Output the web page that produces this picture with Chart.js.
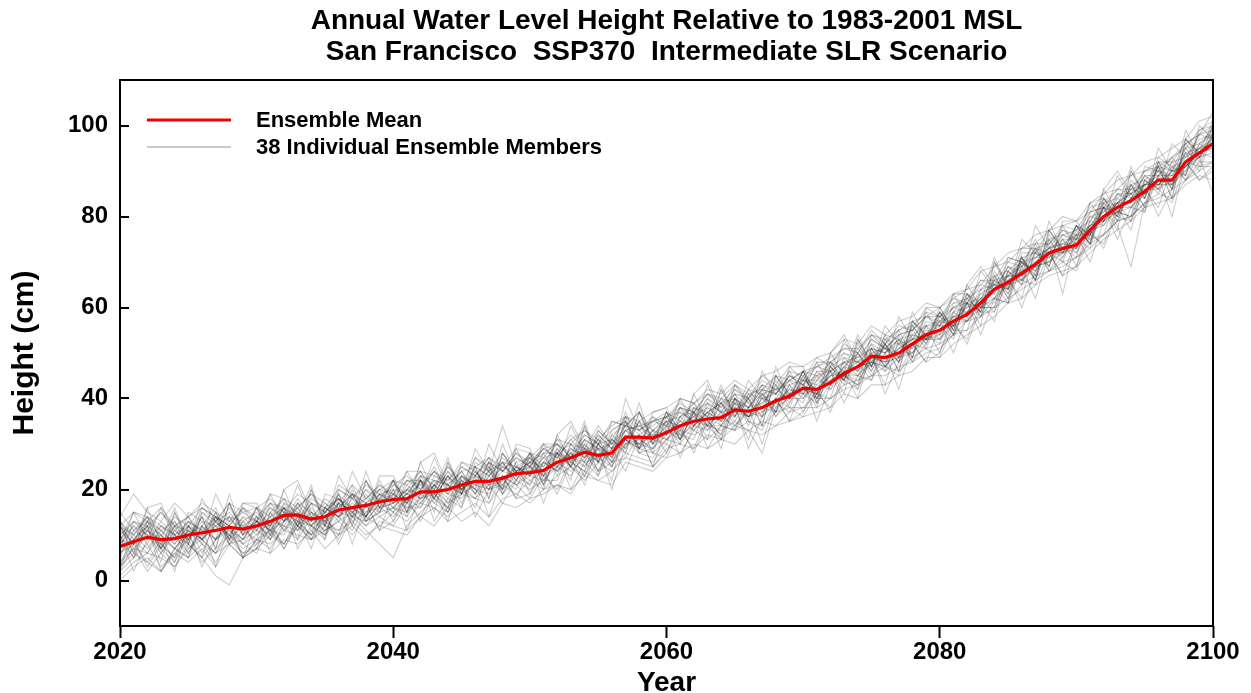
<!DOCTYPE html>
<html>
<head>
<meta charset="utf-8">
<script src="https://cdn.jsdelivr.net/npm/chart.js@4.4.1/dist/chart.umd.min.js"></script>
<style>
    html, body { margin: 0; padding: 0; background: #ffffff; }
    #wrap { width: 1251px; height: 693px; }
</style>
</head>
<body>
<div id="wrap"><canvas id="slrChart" width="1251" height="693"></canvas></div>
<script>
// Chart data
const titleLines = [
    'Annual Water Level Height Relative to 1983-2001 MSL',
    'San Francisco  SSP370  Intermediate SLR Scenario'
];

const years = [
    2020, 2021, 2022, 2023, 2024, 2025, 2026, 2027, 2028, 2029,
    2030, 2031, 2032, 2033, 2034, 2035, 2036, 2037, 2038, 2039,
    2040, 2041, 2042, 2043, 2044, 2045, 2046, 2047, 2048, 2049,
    2050, 2051, 2052, 2053, 2054, 2055, 2056, 2057, 2058, 2059,
    2060, 2061, 2062, 2063, 2064, 2065, 2066, 2067, 2068, 2069,
    2070, 2071, 2072, 2073, 2074, 2075, 2076, 2077, 2078, 2079,
    2080, 2081, 2082, 2083, 2084, 2085, 2086, 2087, 2088, 2089,
    2090, 2091, 2092, 2093, 2094, 2095, 2096, 2097, 2098, 2099,
    2100
];

const ensembleMean = [
    7.5, 8.5, 9.5, 9, 9.2, 10, 10.5, 11, 11.7, 11.3,
    12, 13, 14.3, 14.4, 13.5, 14, 15.5, 16, 16.5, 17.3,
    17.8, 18, 19.5, 19.5, 20, 21, 21.8, 21.8, 22.5, 23.5,
    23.7, 24.2, 26, 27, 28.2, 27.5, 28, 31.5, 31.5, 31.3,
    32.5, 34, 35, 35.5, 35.8, 37.5, 37.2, 38, 39.5, 40.5,
    42.3, 42, 43.5, 45.5, 47, 49.3, 49, 50, 52, 54,
    55, 57, 58.5, 61, 64, 65.5, 67.5, 69.5, 72, 73,
    73.7, 77, 80, 82, 83.5, 85.5, 88, 88, 92, 94,
    96
];

// 38 individual ensemble members (cm), 2020-2100
const members = [
    [12,10,14,11,13,9,15,12,14,13, 15,12,17,15,13,18,16,19,17,20, 19,22,21,24,20,25,23,26,24,27, 25,29,27,31,28,33,30,34,33,36, 34,38,36,40,37,42,39,43,41,45, 43,47,46,50,48,53,51,54,55,58, 57,60,61,65,64,69,68,73,72,76, 75,80,81,85,84,89,89,92,93,97, 98],
    [3,6,4,2,7,5,8,4,9,6, 7,10,8,12,9,11,13,10,14,12, 15,13,17,16,14,19,18,17,21,19, 22,20,23,25,22,26,24,28,27,26, 30,28,33,31,34,33,35,34,37,38, 38,41,40,43,44,45,47,46,49,51, 52,54,57,58,62,61,65,67,68,70, 71,74,76,79,80,83,85,84,88,90, 92],
    [10,5,11,8,13,7,10,15,9,12, 8,15,11,16,12,10,18,14,19,15, 20,15,22,18,23,19,24,20,26,22, 27,21,28,25,30,24,31,29,35,28, 36,31,37,33,39,35,40,36,43,39, 45,40,47,43,50,46,52,48,55,51, 58,54,61,58,66,63,70,67,75,71, 77,74,83,79,87,84,91,86,95,91, 99],
    [6,9,12,10,7,11,9,13,10,14, 11,14,16,12,15,13,17,15,18,16, 17,20,19,22,21,20,24,21,25,23, 26,23,25,29,27,30,27,33,31,32, 32,35,34,38,35,39,36,40,39,42, 41,44,43,47,46,50,48,51,51,55, 54,58,58,62,63,67,66,71,71,74, 73,78,79,83,83,87,87,90,91,95, 95],
    [4,7,2,6,3,8,5,1,-1,5, 9,7,12,9,14,11,13,15,12,16, 14,18,16,21,17,22,19,24,20,23, 21,26,24,28,25,29,26,30,30,33, 31,36,33,37,35,40,36,41,38,43, 40,45,42,48,45,51,47,52,50,56, 53,59,57,63,62,68,65,72,70,75, 72,79,78,84,82,88,86,90,90,96, 94],
    [9,12,8,13,10,6,12,9,14,10, 13,9,15,11,16,12,10,14,11,8, 5,12,15,18,16,21,18,23,19,25, 23,27,24,29,27,31,29,34,33,30, 34,37,35,39,37,41,38,42,41,44, 43,45,46,48,49,51,50,53,54,56, 56,59,60,63,65,67,69,71,73,75, 75,78,81,83,85,87,89,89,93,95, 97],
    [14,19,15,13,17,14,16,13,17,15, 16,18,15,19,17,16,20,18,21,19, 20,19,23,22,21,24,25,23,26,25, 24,27,28,27,31,29,30,33,34,32, 35,36,38,37,39,40,38,41,42,43, 44,43,46,48,48,51,50,52,53,56, 57,58,61,62,66,67,70,71,73,74, 76,78,82,83,86,87,90,89,94,95, 100],
    [12,6,12,4,15,8,14,7,17,10, 16,10,16,9,20,12,19,12,22,16, 22,15,22,15,26,19,25,18,28,23, 28,21,28,22,34,26,31,28,37,30, 37,31,37,31,42,36,40,34,45,40, 46,39,46,41,53,47,52,46,57,53, 59,54,61,56,70,64,71,66,77,72, 78,74,82,77,90,84,91,84,97,93, 100],
    [11,8,13,6,10,12,9,14,11,9, 14,11,13,17,12,15,18,14,16,20, 16,21,18,19,24,20,22,25,21,26, 27,24,29,25,30,26,32,29,35,30, 33,38,34,37,39,36,41,37,40,44, 41,46,43,47,50,46,52,48,54,53, 58,56,62,59,66,64,70,66,74,63, 76,75,82,78,69,83,89,87,91,93, 85],
    [3,9,3,8,5,11,3,9,12,5, 7,13,7,13,10,15,8,14,17,11, 13,18,13,19,16,22,14,20,23,18, 19,24,19,26,24,29,20,30,32,25, 28,34,28,35,32,39,29,36,40,35, 37,42,37,45,43,50,41,48,52,48, 50,57,52,60,60,67,60,68,72,67, 69,77,73,81,80,87,80,86,92,88, 90],
    [8,11,9,12,10,13,11,9,13,12, 14,12,16,13,17,15,14,18,16,19, 18,20,22,19,24,21,23,22,25,24, 26,25,28,30,27,32,29,31,35,33, 32,36,37,35,40,39,38,42,41,45, 44,44,47,49,46,52,50,53,51,57, 56,60,59,64,63,69,67,72,71,76, 74,80,79,85,83,89,87,91,92,98, 97],
    [2,5,8,3,6,9,4,7,10,6, 8,11,7,12,10,13,9,15,12,14, 16,14,19,17,15,20,18,21,17,22, 20,22,25,23,28,24,26,31,28,27, 31,30,34,33,36,34,37,36,39,37, 41,39,43,45,44,48,46,49,50,53, 53,56,57,60,62,65,66,69,70,72, 73,76,79,81,82,85,87,87,90,93, 94],
    [12,6,16,8,5,15,13,9,19,10, 16,10,20,13,10,19,18,14,24,16, 22,15,26,19,16,26,24,20,30,23, 28,21,32,26,24,33,30,30,39,30, 37,31,41,35,32,43,39,36,47,40, 46,39,50,45,43,54,51,48,59,53, 59,54,65,60,60,71,70,68,79,72, 78,74,86,81,80,91,90,86,99,93, 98],
    [10,13,11,15,12,9,14,11,16,12, 11,16,13,18,14,12,17,15,20,16, 19,17,22,20,25,21,27,24,34,25, 27,30,28,32,29,34,30,36,33,35, 37,35,39,41,38,43,40,44,42,46, 45,47,48,51,50,54,52,55,56,59, 58,61,62,66,65,70,69,73,74,77, 76,81,82,86,85,90,90,93,95,99, 101],
    [6,10,7,11,8,12,6,13,10,8, 12,10,14,11,15,13,11,16,14,18, 16,19,17,21,18,22,20,19,23,21, 23,26,24,27,25,30,27,31,30,32, 31,34,36,34,37,38,36,40,41,40, 42,41,45,46,48,49,48,51,53,54, 55,57,60,61,64,66,68,70,71,73, 74,77,80,81,84,86,87,89,91,94, 95],
    [13,9,12,15,11,14,10,13,15,11, 13,16,14,12,17,15,19,16,18,21, 18,22,20,24,21,19,25,23,27,24, 26,28,30,27,32,30,33,35,32,34, 36,37,35,40,38,41,40,43,42,44, 46,45,48,50,49,53,51,54,55,58, 58,60,62,64,67,68,71,72,75,76, 77,79,83,84,87,88,91,90,95,96, 99],
    [2,8,12,2,7,5,12,3,12,8, 6,12,16,7,12,9,17,8,17,14, 12,17,22,13,18,16,23,14,23,21, 18,23,28,20,26,23,29,24,32,28, 27,33,37,29,34,33,38,30,40,38, 36,41,46,39,45,44,50,42,52,51, 49,56,61,54,62,61,69,62,72,70, 68,76,82,75,82,81,89,80,92,91, 91],
    [8,12,10,7,11,9,13,12,10,14, 13,11,15,14,12,16,18,15,17,19, 17,19,21,18,23,20,22,21,24,23, 25,23,27,26,29,27,25,31,29,28, 31,33,32,34,33,35,33,28,38,40, 40,43,42,45,47,48,47,51,53,54, 55,58,59,62,64,67,67,70,73,74, 74,78,80,83,85,87,88,88,92,95, 96],
    [12,8,16,17,10,8,18,13,17,11, 16,12,20,22,15,12,23,18,22,17, 22,17,26,28,21,19,29,24,28,24, 28,23,32,35,29,26,35,34,37,31, 37,33,41,44,37,36,44,40,45,41, 46,41,50,54,48,47,56,52,57,54, 59,56,65,69,65,64,75,72,77,73, 78,76,86,90,85,84,95,90,97,94, 101],
    [13,7,6,12,10,5,15,13,9,17, 17,11,10,17,15,9,20,18,14,23, 23,16,16,23,21,16,26,24,20,30, 29,22,22,30,29,23,32,34,29,37, 38,32,31,39,37,33,41,40,37,47, 47,40,40,49,48,44,53,52,49,60, 60,55,55,64,65,61,72,72,69,79, 79,75,76,85,85,81,92,90,89,100, 97],
    [4,9,6,10,7,11,8,6,10,7, 9,8,11,10,9,12,11,13,10,12, 11,10,14,12,16,13,15,12,17,16, 18,19,21,20,23,22,24,27,26,25, 29,30,29,32,31,34,33,35,34,37, 38,38,40,42,43,45,45,47,48,50, 51,54,55,58,60,62,64,66,68,69, 71,73,76,79,80,83,84,86,88,91, 92],
    [12,8,11,7,12,14,9,12,8,13, 10,14,12,17,13,11,16,19,14,18, 22,17,20,25,19,23,21,26,22,20, 28,25,31,27,26,32,29,33,30,35, 36,32,38,36,40,37,42,38,44,40, 46,41,48,44,51,47,54,49,56,52, 60,55,63,60,68,63,71,67,76,72, 78,76,84,80,88,85,92,86,96,92, 100],
    [9,15,9,16,9,13,9,19,13,15, 13,19,13,21,14,17,14,24,18,21, 19,24,19,27,20,24,20,30,24,28, 25,30,25,34,28,31,26,40,33,35, 34,40,34,43,36,41,35,46,41,45, 43,48,43,53,47,52,47,58,53,58, 56,63,58,68,64,69,66,78,73,77, 75,83,79,89,84,89,86,96,93,98, 99],
    [1,4,6,5,3,7,9,6,8,5, 9,11,8,13,12,10,14,16,13,15, 16,15,18,20,17,19,21,20,22,24, 22,24,26,24,27,29,25,30,31,29, 33,31,35,34,34,37,36,38,37,41, 42,40,44,45,45,48,47,50,50,54, 53,57,57,61,61,66,66,69,70,73, 72,77,78,82,82,86,86,88,91,94, 93],
    [15,11,13,10,14,12,16,14,12,16, 13,17,15,13,18,16,14,19,17,15, 21,19,23,21,25,22,20,26,24,27, 25,29,27,31,33,30,35,34,37,33, 36,39,37,41,39,42,40,45,43,47, 44,49,47,52,50,55,52,56,55,60, 58,62,61,66,66,71,70,74,74,78, 77,82,83,86,86,90,91,93,96,98, 103],
    [6,8,11,9,7,10,12,9,11,8, 10,13,12,11,14,13,15,14,13,17, 18,16,17,21,19,18,22,20,21,25, 23,22,26,28,26,27,29,31,29,31, 33,32,34,37,35,38,36,37,40,41, 42,41,44,46,45,49,48,49,52,53, 55,56,59,60,64,65,68,69,72,72, 74,76,80,81,84,85,88,87,92,93, 96],
    [9,5,13,7,4,12,8,15,8,11, 13,9,17,12,9,16,13,20,13,17, 19,14,23,18,15,23,19,26,19,24, 25,20,29,25,23,30,25,36,28,31, 34,30,38,34,31,40,34,42,36,41, 43,38,47,44,42,51,46,54,48,54, 56,53,62,59,59,68,65,74,68,73, 75,73,83,80,79,88,85,92,88,94, 95],
    [3,7,10,6,11,8,5,9,12,9, 11,9,13,16,11,14,17,13,15,18, 15,18,22,17,21,24,19,23,26,21, 24,28,23,30,26,31,27,35,29,33, 35,31,37,39,34,40,37,39,43,38, 45,40,47,44,52,47,53,49,56,52, 59,55,63,58,67,62,71,66,75,70, 78,74,84,79,87,82,92,87,94,90, 98],
    [5,13,12,7,15,9,14,7,17,11, 9,17,16,12,20,13,19,12,22,17, 15,22,22,18,26,20,25,18,28,24, 21,28,28,25,34,27,31,28,37,31, 30,38,37,34,42,37,40,34,45,41, 39,46,46,44,53,48,52,46,57,54, 52,61,61,59,70,65,71,66,77,73, 71,81,82,80,90,85,91,84,97,94, 96],
    [12,15,13,16,12,14,17,15,13,17, 16,14,18,16,19,17,15,21,18,20, 22,21,24,23,22,26,25,27,25,29, 28,27,31,30,33,31,34,36,35,37, 38,40,39,42,41,44,42,45,46,48, 47,49,50,53,52,56,54,57,58,61, 60,63,64,68,69,72,73,76,77,80, 79,83,85,88,89,92,93,95,97,101, 102],
    [0,3,5,2,6,4,7,3,8,5, 7,6,9,8,11,7,10,12,9,13, 12,11,14,16,13,15,17,14,18,19, 17,20,21,19,24,22,21,26,25,24, 27,28,30,29,31,30,33,32,34,35, 36,37,38,41,40,43,43,45,46,49, 49,52,54,56,58,61,62,65,67,68, 69,72,75,77,79,82,83,84,87,89, 88],
    [9,13,10,8,12,11,9,12,14,10, 12,15,11,14,13,16,14,17,15,16, 17,19,18,21,23,20,23,21,22,25, 23,26,25,27,29,26,28,32,30,29, 32,35,33,36,34,39,36,38,39,42, 41,42,45,45,47,48,51,49,53,53, 54,58,57,61,62,66,67,69,72,73, 73,78,79,83,83,87,87,90,91,94, 97],
    [7,9,13,11,8,12,10,14,12,9, 13,11,16,14,12,15,18,16,14,19, 17,20,18,22,19,23,21,24,26,22, 27,24,28,26,31,29,28,33,34,31, 35,34,36,38,36,40,38,39,42,40, 44,42,45,48,46,50,51,50,54,53, 57,56,61,60,65,64,70,68,73,72, 76,76,82,81,86,85,90,88,94,93, 98],
    [9,8,4,9,2,12,9,6,12,5, 13,12,8,14,7,16,14,11,17,11, 19,17,14,20,13,23,20,17,23,18, 25,23,20,27,21,30,26,27,32,25, 34,33,29,36,29,40,35,33,40,35, 43,41,38,46,40,51,47,45,52,48, 56,56,53,61,57,68,66,65,72,67, 75,76,74,82,77,88,86,83,92,88, 91],
    [7,15,14,9,16,8,16,14,9,16, 11,19,18,14,21,12,21,19,14,22, 17,24,24,20,27,19,27,25,20,29, 23,30,30,27,35,26,33,35,29,36, 32,40,39,36,43,36,42,41,37,46, 41,48,48,46,54,47,54,53,49,59, 54,63,63,61,71,64,73,73,69,78, 73,83,84,82,91,84,93,91,89,99, 100],
    [10,2,9,10,4,10,5,14,8,9, 14,6,13,15,9,14,10,19,13,15, 20,11,19,21,15,21,16,25,19,22, 26,17,25,28,23,28,22,35,28,29, 35,27,34,37,31,38,31,41,36,39, 44,35,43,47,42,49,43,53,48,52, 57,50,58,62,59,66,62,73,68,71, 76,70,79,83,79,86,82,91,88,92, 92],
    [13,10,14,12,9,13,11,14,12,16, 14,17,13,16,19,15,18,16,20,18, 21,23,20,24,22,25,23,27,24,28, 26,29,30,28,32,30,31,36,34,35, 36,38,37,41,40,43,41,42,45,44, 46,47,49,51,51,54,53,55,57,58, 60,62,64,65,69,70,73,74,77,78, 79,81,85,86,89,90,92,92,96,98, 100],
    [3,11,14,7,12,6,12,16,9,13, 7,15,18,12,17,10,17,21,14,19, 13,20,24,18,23,17,23,27,20,26, 19,26,30,25,31,24,29,37,29,33, 28,36,39,34,39,34,38,43,37,43, 37,44,48,44,50,45,50,55,49,56, 50,59,63,59,67,62,69,75,69,75, 69,79,84,80,87,82,89,93,89,96, 98]
];

const xTickValues = [2020, 2040, 2060, 2080, 2100];
const yTickValues = [0, 20, 40, 60, 80, 100];

const legendLabels = ['Ensemble Mean', '38 Individual Ensemble Members'];

const FONT = "'Liberation Sans', Arial, Helvetica, sans-serif";
const MEAN_COLOR = '#ee0000';
const MEMBER_COLOR = 'rgba(0, 0, 0, 0.2)';

// Helper to turn a value list into {x, y} points
function toPoints(values) {
    return years.map((yr, i) => ({ x: yr, y: values[i] }));
}

// Title drawn over the centre of the plot box
const titlePlugin = {
    id: 'plotTitle',
    afterDraw(chart) {
        const { ctx, chartArea } = chart;
        const cx = (chartArea.left + chartArea.right) / 2;
        ctx.save();
        ctx.fillStyle = '#000';
        ctx.font = 'bold 28px ' + FONT;
        ctx.textAlign = 'center';
        ctx.textBaseline = 'middle';
        ctx.fillText(titleLines[0], cx, 21);
        ctx.fillText(titleLines[1], cx, 52);
        ctx.restore();
    }
};

// Plot frame and inward y ticks
const framePlugin = {
    id: 'plotFrame',
    afterDatasetsDraw(chart) {
        const { ctx, chartArea } = chart;
        const yScale = chart.scales.y;
        ctx.save();
        ctx.strokeStyle = '#000';
        ctx.lineWidth = 2;
        ctx.strokeRect(chartArea.left, chartArea.top,
            chartArea.right - chartArea.left, chartArea.bottom - chartArea.top);
        ctx.beginPath();
        yTickValues.forEach(v => {
            const py = Math.round(yScale.getPixelForValue(v));
            ctx.moveTo(chartArea.left, py);
            ctx.lineTo(chartArea.left + 9, py);
        });
        ctx.stroke();
        ctx.restore();
    }
};

// Legend inside the plot, upper left
const legendPlugin = {
    id: 'insideLegend',
    afterDatasetsDraw(chart) {
        const { ctx, chartArea } = chart;
        const x0 = chartArea.left + 27;
        const x1 = x0 + 84;
        const tx = x0 + 109;
        const rows = [
            { y: chartArea.top + 40, color: MEAN_COLOR, width: 3 },
            { y: chartArea.top + 67, color: '#b8b8b8', width: 1.5 }
        ];
        ctx.save();
        rows.forEach((r, i) => {
            ctx.strokeStyle = r.color;
            ctx.lineWidth = r.width;
            ctx.beginPath();
            ctx.moveTo(x0, r.y);
            ctx.lineTo(x1, r.y);
            ctx.stroke();
            ctx.fillStyle = '#000';
            ctx.font = 'bold 22px ' + FONT;
            ctx.textAlign = 'left';
            ctx.textBaseline = 'middle';
            ctx.fillText(legendLabels[i], tx, r.y + 1);
        });
        ctx.restore();
    }
};

document.addEventListener('DOMContentLoaded', function () {
    const ctx = document.getElementById('slrChart');

    // Mean first so it is drawn on top of the members
    const datasets = [{
        label: legendLabels[0],
        data: toPoints(ensembleMean),
        borderColor: MEAN_COLOR,
        borderWidth: 3.2,
        pointRadius: 0,
        tension: 0
    }];
    members.forEach((m, k) => {
        datasets.push({
            label: 'Member ' + (k + 1),
            data: toPoints(m),
            borderColor: MEMBER_COLOR,
            borderWidth: 1.1,
            pointRadius: 0,
            tension: 0
        });
    });

    new Chart(ctx, {
        type: 'line',
        data: { datasets: datasets },
        plugins: [titlePlugin, framePlugin, legendPlugin],
        options: {
            responsive: false,
            animation: false,
            devicePixelRatio: 1,
            layout: {
                padding: { top: 80, right: 38, left: 0, bottom: 0 }
            },
            plugins: {
                legend: { display: false },
                tooltip: { enabled: false },
                title: { display: false }
            },
            scales: {
                x: {
                    type: 'linear',
                    min: 2020,
                    max: 2100,
                    afterBuildTicks: scale => {
                        scale.ticks = xTickValues.map(v => ({ value: v }));
                    },
                    afterFit: scale => { scale.height = 67; },
                    border: { display: false },
                    grid: {
                        display: true,
                        drawOnChartArea: false,
                        drawTicks: true,
                        tickLength: 12,
                        tickWidth: 2,
                        tickColor: '#000'
                    },
                    ticks: {
                        color: '#000',
                        padding: 0,
                        maxRotation: 0,
                        autoSkip: false,
                        font: { family: FONT, size: 24, weight: 'bold' },
                        callback: v => String(v)
                    },
                    title: {
                        display: true,
                        text: 'Year',
                        color: '#000',
                        padding: { top: 0, bottom: 0 },
                        font: { family: FONT, size: 28, weight: 'bold', lineHeight: 0.7 }
                    }
                },
                y: {
                    min: -10,
                    max: 110,
                    afterBuildTicks: scale => {
                        scale.ticks = yTickValues.map(v => ({ value: v }));
                    },
                    afterFit: scale => { scale.width = 120; },
                    border: { display: false },
                    grid: { display: false, drawTicks: false },
                    ticks: {
                        color: '#000',
                        padding: 12,
                        font: { family: FONT, size: 24, weight: 'bold' }
                    },
                    title: {
                        display: true,
                        text: 'Height (cm)',
                        color: '#000',
                        padding: { top: 7, bottom: 0 },
                        font: { family: FONT, size: 30, weight: 'bold', lineHeight: 1.2 }
                    }
                }
            }
        }
    });
});
</script>
</body>
</html>
